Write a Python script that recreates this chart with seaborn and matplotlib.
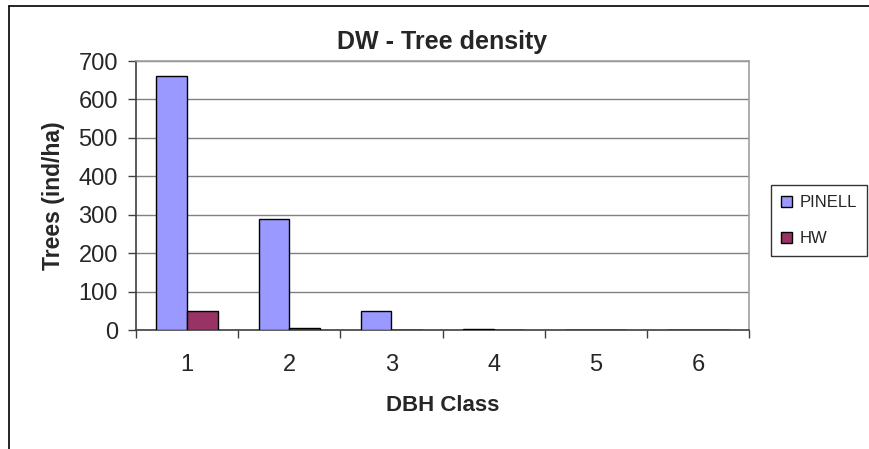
import pandas as pd
import numpy as np
import matplotlib
matplotlib.use("Agg")
import matplotlib.pyplot as plt
import seaborn as sns
from matplotlib.lines import Line2D

# values
dbh_class = ["1", "2", "3", "4", "5", "6"]
pinell = [660, 290, 50, 3, 0, 0]
hw = [50, 4, 0, 0, 0, 0]
series_names = ["PINELL", "HW"]
y_ticks = [0, 100, 200, 300, 400, 500, 600, 700]

df = pd.DataFrame({
    "DBH Class": dbh_class * 2,
    "Trees": pinell + hw,
    "Species": [series_names[0]] * len(dbh_class) + [series_names[1]] * len(dbh_class),
})

sns.set_style("white")
plt.rcParams['font.family'] = ['Liberation Sans', 'DejaVu Sans']

fig = plt.figure(figsize=(8.69, 4.49), dpi=100)
ax = fig.add_axes([0.1565, 0.265, 0.7055, 0.599])

sns.barplot(data=df, x="DBH Class", y="Trees", hue="Species",
            palette=["#9999FF", "#993366"], width=0.6, dodge=True,
            edgecolor="black", linewidth=1.0, saturation=1, ax=ax, zorder=3)

ax.set_ylim(0, 700)
ax.set_xlim(-0.5, 5.5)
ax.set_yticks(y_ticks)
ax.yaxis.grid(True, color="#808080", linewidth=1.0, zorder=0)
ax.set_axisbelow(True)

for s in ["top", "right"]:
    ax.spines[s].set_color("#a0a0a0")
    ax.spines[s].set_linewidth(1.2)
ax.spines["left"].set_color("#404040")
ax.spines["bottom"].set_color("#404040")
ax.spines["left"].set_linewidth(1.2)
ax.spines["bottom"].set_linewidth(1.2)

ax.tick_params(axis="y", which="major", length=6, width=1, color="#404040",
               labelsize=17, pad=7, left=True)
ax.tick_params(axis="x", which="major", length=0, labelsize=17, pad=17)
ax.set_xticks(np.arange(-0.5, 6.0, 1.0), minor=True)
ax.tick_params(axis="x", which="minor", length=6, width=1, color="#404040", bottom=True)

ax.set_xlabel("DBH Class", fontsize=16, fontweight="bold", labelpad=14)
ax.set_ylabel("Trees (ind/ha)", fontsize=16.5, fontweight="bold", labelpad=10)
ax.set_title("DW - Tree density", fontsize=18, fontweight="bold", pad=9)

leg = ax.legend(loc="center left", bbox_to_anchor=(1.036, 0.407), frameon=True,
                fontsize=12, handlelength=0.65, handleheight=0.65,
                handletextpad=0.45, borderpad=0.6, labelspacing=1.25,
                borderaxespad=0, fancybox=False, edgecolor="black")
leg.get_frame().set_linewidth(1.0)
for h in leg.legend_handles:
    h.set_edgecolor("black")
    h.set_linewidth(1.0)

# outer chart frame (partly cut off in the reference)
W, H = 869, 449
fig.add_artist(Line2D([9 / W, 9 / W], [0, 1 - 6 / H], color="black", lw=1.2,
                      transform=fig.transFigure))
fig.add_artist(Line2D([9 / W, 1], [1 - 6 / H, 1 - 6 / H], color="black", lw=1.2,
                      transform=fig.transFigure))

fig.savefig("out.png", dpi=100)
